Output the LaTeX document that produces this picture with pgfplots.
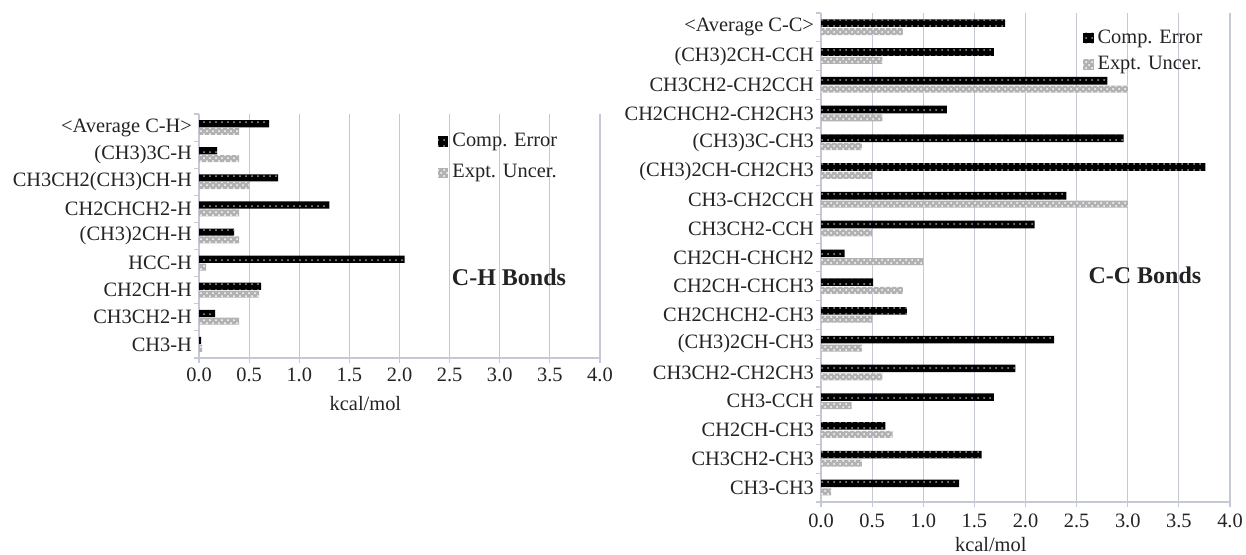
\documentclass[border=0pt]{standalone}
\usepackage{fontspec}
\setmainfont{Liberation Serif}
\usepackage{pgfplots}
\pgfplotsset{compat=1.18}
\usetikzlibrary{patterns}
\definecolor{gridc}{RGB}{196,201,213}
\definecolor{txt}{RGB}{35,35,35}
\newcommand{\lblfont}{\fontsize{10.2}{12}\selectfont}
\pgfplotsset{
  bondaxis/.style={
    scale only axis,
    xbar,
    xmin=0, xmax=4,
    xtick={0,0.5,...,4},
    minor xtick={0,0.5,...,4},
    xticklabel style={yshift=-1.5pt, /pgf/number format/fixed, /pgf/number format/fixed zerofill, /pgf/number format/precision=1, /pgf/number format/assume math mode=true},
    xmajorgrids,
    grid style={gridc, line width=0.6pt},
    axis x line*=bottom, axis y line*=left,
    axis line style={gridc, line width=0.8pt, -},
    tick align=outside,
    major tick length=0pt, minor tick length=2.5pt,
    tick style={gridc, line width=0.6pt},
    tick label style={font=\lblfont, text=txt},
    label style={font=\lblfont, text=txt},
    xlabel={kcal/mol},
    xlabel style={at={(ticklabel cs:0.415)}, yshift=-0.5pt},
    legend style={draw=none, fill=none, font=\lblfont, text=txt, inner sep=0pt},
    legend cell align=left,
    legend image code/.code={\path[##1] (0pt,-2.6pt) rectangle (5.2pt,2.6pt);},
  },
  comp/.style={fill=black, draw=none, postaction={pattern=dots, pattern color=gray!75}},
  expt/.style={fill=gray!60, draw=none, postaction={pattern=crosshatch dots, pattern color=white}},
}
\begin{document}
\begin{tikzpicture}
\useasboundingbox (0,0) rectangle (623pt,277pt);
% ---------------- C-H bonds ----------------
\begin{axis}[bondaxis,
  at={(99.5pt,98pt)}, anchor=south west,
  width=200.5pt, height=122pt,
  ymin=-0.5, ymax=8.5,
  ytick={0,...,8},
  minor ytick={-0.5,0.5,...,8.5},
  yticklabels={CH3-H,CH3CH2-H,CH2CH-H,HCC-H,(CH3)2CH-H,CH2CHCH2-H,CH3CH2(CH3)CH-H,(CH3)3C-H,{<Average C-H>}},
  legend style={at={(rel axis cs:0.595,0.94)}, anchor=north west, row sep=3.5pt},
]
\addplot[comp, bar width=3.6pt, bar shift=1.95pt] coordinates {
 (0.02,0) (0.16,1) (0.62,2) (2.05,3) (0.35,4) (1.30,5) (0.79,6) (0.18,7) (0.70,8)};
\addplot[expt, bar width=3.5pt, bar shift=-1.95pt] coordinates {
 (0.03,0) (0.40,1) (0.60,2) (0.07,3) (0.40,4) (0.40,5) (0.50,6) (0.40,7) (0.40,8)};
\legend{Comp. Error, Expt. Uncer.}
\node[font=\fontsize{12}{14}\selectfont\bfseries, text=txt] at (rel axis cs:0.773,0.332) {C-H Bonds};
\end{axis}
% ---------------- C-C bonds ----------------
\begin{axis}[bondaxis,
  at={(410.5pt,26pt)}, anchor=south west,
  width=204.5pt, height=244.5pt,
  ymin=-0.5, ymax=16.5,
  ytick={0,...,16},
  minor ytick={-0.5,0.5,...,16.5},
  yticklabels={CH3-CH3,CH3CH2-CH3,CH2CH-CH3,CH3-CCH,CH3CH2-CH2CH3,(CH3)2CH-CH3,CH2CHCH2-CH3,CH2CH-CHCH3,CH2CH-CHCH2,CH3CH2-CCH,CH3-CH2CCH,(CH3)2CH-CH2CH3,(CH3)3C-CH3,CH2CHCH2-CH2CH3,CH3CH2-CH2CCH,(CH3)2CH-CCH,{<Average C-C>}},
  xticklabel style={yshift=-1pt},
  xlabel style={yshift=2.5pt},
  legend style={at={(rel axis cs:0.64,0.975)}, anchor=north west, row sep=1pt},
]
\addplot[comp, bar width=3.8pt, bar shift=2.1pt] coordinates {
 (1.35,0) (1.57,1) (0.63,2) (1.69,3) (1.90,4) (2.28,5) (0.84,6) (0.51,7) (0.23,8) (2.09,9) (2.40,10) (3.76,11) (2.96,12) (1.23,13) (2.80,14) (1.69,15) (1.80,16)};
\addplot[expt, bar width=3.5pt, bar shift=-2.1pt] coordinates {
 (0.10,0) (0.40,1) (0.70,2) (0.30,3) (0.60,4) (0.40,5) (0.50,6) (0.80,7) (1.00,8) (0.50,9) (3.00,10) (0.50,11) (0.40,12) (0.60,13) (3.00,14) (0.60,15) (0.80,16)};
\legend{Comp. Error, Expt. Uncer.}
\node[font=\fontsize{12}{14}\selectfont\bfseries, text=txt] at (rel axis cs:0.792,0.464) {C-C Bonds};
\end{axis}
\end{tikzpicture}
\end{document}
